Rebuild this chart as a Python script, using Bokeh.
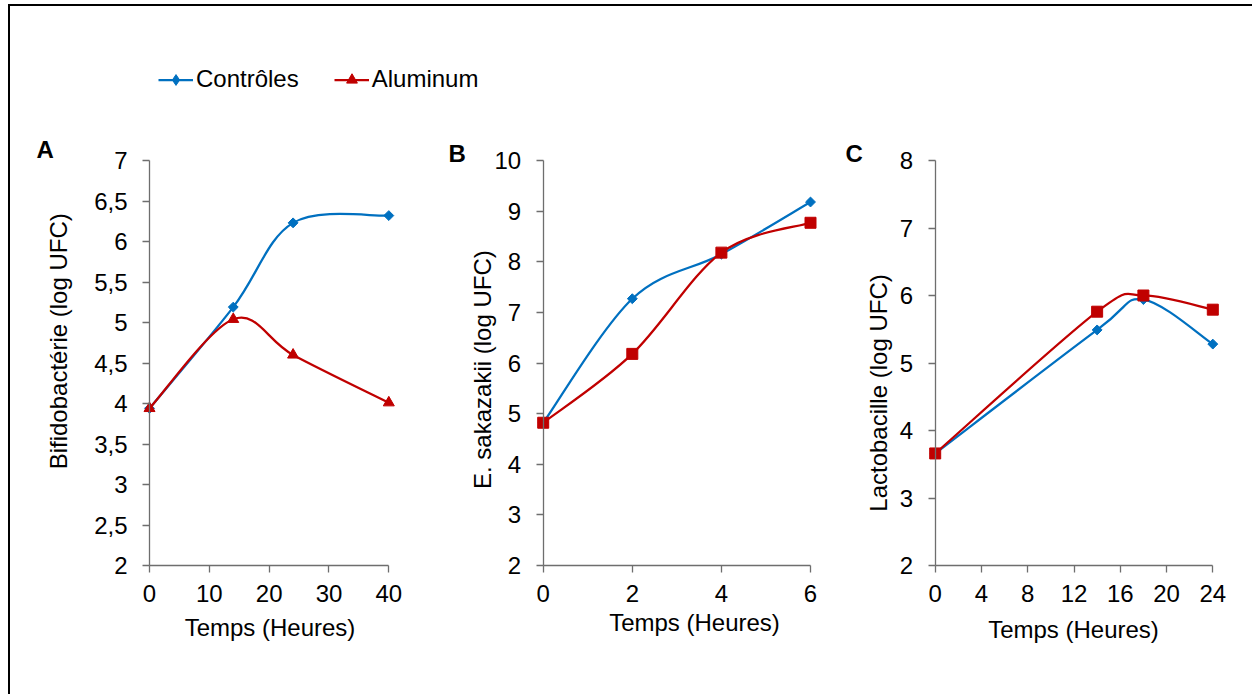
import math
from bokeh.plotting import figure
from bokeh.models import Range1d, FixedTicker, Label, Legend, LegendItem, ColumnDataSource, LinearAxis
from bokeh.layouts import row, column
from bokeh.embed import file_html
from bokeh.resources import INLINE
from bokeh.core.properties import value

FONT = "Liberation Sans"
BLUE = "#0070C0"
RED = "#C00000"
AXIS_COLOR = "#6e6e6e"
TEXT_COLOR = "#000000"

# ---------------- data ----------------
legend_labels = ["Contrôles", "Aluminum"]
panel_letters = ["A", "B", "C"]
x_title = "Temps (Heures)"
y_titles = ["Bifidobactérie (log UFC)", "E. sakazakii  (log UFC)", "Lactobacille (log UFC)"]

a_time = [0, 14, 24, 40]
a_controles = [3.94, 5.19, 6.23, 6.32]
a_aluminum = [3.94, 5.04, 4.60, 4.01]
a_xticks = [0, 10, 20, 30, 40]
a_yticks = [2, 2.5, 3, 3.5, 4, 4.5, 5, 5.5, 6, 6.5, 7]
a_ytick_labels = ["2", "2,5", "3", "3,5", "4", "4,5", "5", "5,5", "6", "6,5", "7"]

b_time = [0, 2, 4, 6]
b_controles = [4.82, 7.27, 8.15, 9.18]
b_aluminum = [4.82, 6.18, 8.18, 8.77]
b_xticks = [0, 2, 4, 6]
b_yticks = [2, 3, 4, 5, 6, 7, 8, 9, 10]
b_ytick_labels = ["2", "3", "4", "5", "6", "7", "8", "9", "10"]

c_time = [0, 14, 18, 24]
c_controles = [3.66, 5.49, 5.94, 5.28]
c_aluminum = [3.66, 5.76, 6.00, 5.79]
c_xticks = [0, 4, 8, 12, 16, 20, 24]
c_yticks = [2, 3, 4, 5, 6, 7, 8]
c_ytick_labels = ["2", "3", "4", "5", "6", "7", "8"]

# ---------------- layout constants (image pixels) ----------------
ORIGIN_X = 10          # left edge of the row (after margin + border)
TOP_Y = 6              # top of legend strip (after margin + border)
ROW_TOP = 135          # top of panel figures
ROW_BOT = 694
FRAME_TOP = 160        # pixel of the y-axis maximum
FRAME_BOT = 565        # pixel of the y-axis minimum


def smooth_segments(xs, ys):
    """Bezier segments (Catmull-Rom style) through the data points, like Excel smoothed lines."""
    n = len(xs)
    d = dict(x0=[], y0=[], x1=[], y1=[], cx0=[], cy0=[], cx1=[], cy1=[])
    for i in range(n - 1):
        im, ip = max(i - 1, 0), min(i + 2, n - 1)
        d["x0"].append(xs[i]); d["y0"].append(ys[i])
        d["x1"].append(xs[i + 1]); d["y1"].append(ys[i + 1])
        d["cx0"].append(xs[i] + (xs[i + 1] - xs[im]) / 6.0)
        d["cy0"].append(ys[i] + (ys[i + 1] - ys[im]) / 6.0)
        d["cx1"].append(xs[i + 1] - (xs[ip] - xs[i]) / 6.0)
        d["cy1"].append(ys[i + 1] - (ys[ip] - ys[i]) / 6.0)
    return ColumnDataSource(d)


def style_axis(ax):
    ax.axis_line_color = AXIS_COLOR
    ax.axis_line_width = 1.3
    ax.major_tick_line_color = AXIS_COLOR
    ax.major_tick_line_width = 1.3
    ax.major_tick_out = 7
    ax.major_tick_in = 0
    ax.minor_tick_line_color = None
    ax.major_label_text_font = FONT
    ax.major_label_text_font_size = "24px"
    ax.major_label_text_color = TEXT_COLOR


def make_panel(time, ctrl, alu, alu_marker, xticks, yticks, ytick_labels, ytitle, letter,
               fig_left, fig_w, x0_img, x1_img, letter_pos, ytitle_pos, xtitle_pos,
               xlabel_standoff):
    xmin, xmax = xticks[0], xticks[-1]
    ymin, ymax = yticks[0], yticks[-1]

    def dx(img):
        return xmin + (img - x0_img) / (x1_img - x0_img) * (xmax - xmin)

    def dy(img):
        return ymin + (FRAME_BOT - img) / (FRAME_BOT - FRAME_TOP) * (ymax - ymin)

    p = figure(width=fig_w, height=ROW_BOT - ROW_TOP,
               min_border=0, min_border_left=0, min_border_right=0,
               min_border_top=0, min_border_bottom=0,
               x_range=Range1d(dx(fig_left), dx(fig_left + fig_w)),
               y_range=Range1d(dy(ROW_BOT), dy(ROW_TOP)),
               x_axis_location=None, y_axis_location=None,
               output_backend="svg", toolbar_location=None, tools="")
    p.outline_line_color = None
    p.background_fill_color = "white"
    p.border_fill_color = "white"
    p.xgrid.visible = False
    p.ygrid.visible = False

    xaxis = LinearAxis(ticker=FixedTicker(ticks=xticks), bounds=(xmin, xmax), fixed_location=ymin)
    style_axis(xaxis)
    xaxis.major_label_standoff = xlabel_standoff
    yaxis = LinearAxis(ticker=FixedTicker(ticks=yticks), bounds=(ymin, ymax), fixed_location=xmin)
    style_axis(yaxis)
    yaxis.major_label_standoff = 15
    yaxis.major_label_overrides = {float(t): lab for t, lab in zip(yticks, ytick_labels)}
    p.add_layout(xaxis, "below")
    p.add_layout(yaxis, "left")

    # series
    p.bezier(x0="x0", y0="y0", x1="x1", y1="y1", cx0="cx0", cy0="cy0", cx1="cx1", cy1="cy1",
             source=smooth_segments(time, ctrl), line_color=BLUE, line_width=2.25)
    p.scatter(time, ctrl, marker="square", angle=math.pi / 4, size=7,
              fill_color=BLUE, line_color=BLUE)
    p.bezier(x0="x0", y0="y0", x1="x1", y1="y1", cx0="cx0", cy0="cy0", cx1="cx1", cy1="cy1",
             source=smooth_segments(time, alu), line_color=RED, line_width=2.25)
    p.scatter(time, alu, marker=alu_marker, size=11, fill_color=RED, line_color=RED)

    # texts
    p.add_layout(Label(x=dx(letter_pos[0]), y=dy(letter_pos[1]), text=letter,
                       text_font=FONT, text_font_size="24px", text_font_style="bold",
                       text_color=TEXT_COLOR, text_align="left", text_baseline="alphabetic"))
    p.add_layout(Label(x=dx(ytitle_pos[0]), y=dy(ytitle_pos[1]), text=ytitle, angle=math.pi / 2,
                       text_font=FONT, text_font_size="24px", text_color=TEXT_COLOR,
                       text_align="center", text_baseline="alphabetic"))
    p.add_layout(Label(x=dx(xtitle_pos[0]), y=dy(xtitle_pos[1]), text=x_title,
                       text_font=FONT, text_font_size="24px", text_color=TEXT_COLOR,
                       text_align="center", text_baseline="alphabetic"))
    return p


pa = make_panel(a_time, a_controles, a_aluminum, "triangle", a_xticks, a_yticks, a_ytick_labels,
                y_titles[0], panel_letters[0], ORIGIN_X, 430, 149, 388.3,
                (36, 149), (57.5, 340.8), (269.5, 627), 12)
pb = make_panel(b_time, b_controles, b_aluminum, "square", b_xticks, b_yticks, b_ytick_labels,
                y_titles[1], panel_letters[1], ORIGIN_X + 430, 390, 542.7, 810,
                (448, 153), (481.5, 365.8), (694, 622), 12)
pc = make_panel(c_time, c_controles, c_aluminum, "square", c_xticks, c_yticks, c_ytick_labels,
                y_titles[2], panel_letters[2], ORIGIN_X + 820, 410, 934.7, 1212.3,
                (845, 153), (877.5, 392.5), (1073, 628.5), 12)

# ---------------- legend strip ----------------
lf = figure(width=1242, height=ROW_TOP - TOP_Y, x_range=Range1d(0, 1), y_range=Range1d(0, 1),
            min_border=0, min_border_left=0, min_border_right=0, min_border_top=0, min_border_bottom=0,
            x_axis_location=None, y_axis_location=None,
            output_backend="svg", toolbar_location=None, tools="")
lf.outline_line_color = None
lf.xgrid.visible = False
lf.ygrid.visible = False
# legend proxies: panel A series, lying outside this strip's visible range
l1 = lf.line(a_time, a_controles, line_color=BLUE, line_width=2.25)
s1 = lf.scatter(a_time, a_controles, marker="diamond", size=10, fill_color=BLUE, line_color=BLUE)
l2 = lf.line(a_time, a_aluminum, line_color=RED, line_width=2.25)
s2 = lf.scatter(a_time, a_aluminum, marker="triangle", size=10, fill_color=RED, line_color=RED)
legend = Legend(items=[LegendItem(label=value(legend_labels[0]), renderers=[l1, s1]),
                       LegendItem(label=value(legend_labels[1]), renderers=[l2, s2])],
                location=(148, 42), orientation="horizontal",
                glyph_width=35, glyph_height=27, label_height=27, label_standoff=3,
                spacing=35, padding=0, margin=0,
                background_fill_alpha=0, border_line_alpha=0,
                label_text_font=FONT, label_text_font_size="24px", label_text_color=TEXT_COLOR)
lf.add_layout(legend)

layout = column(lf, row(pa, pb, pc),
                styles={"border-top": "2px solid black", "border-left": "2px solid black",
                        "margin-left": "8px", "margin-top": "4px"})

open("out.html", "w").write(file_html(layout, INLINE))
